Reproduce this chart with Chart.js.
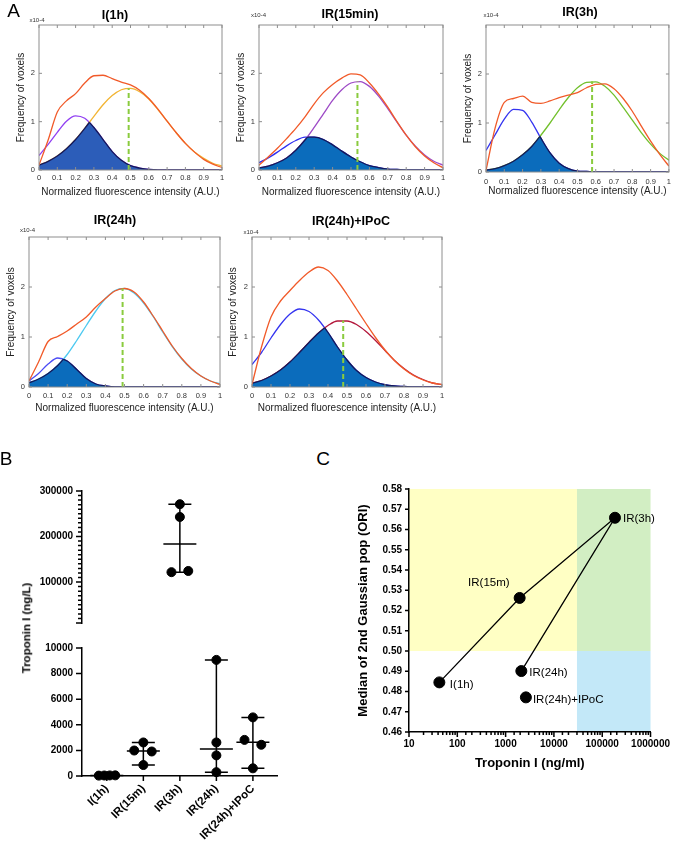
<!DOCTYPE html>
<html lang="en">
<head>
<meta charset="UTF-8">
<title>Gaussian populations and Troponin I</title>
<script src="https://cdn.jsdelivr.net/npm/chart.js"></script>
<style>
  body { margin: 0; background: #fff; }
  #fig { position: relative; width: 676px; height: 844px; overflow: hidden; font-family: 'Liberation Sans', Arial, sans-serif; }
  #fig canvas { position: absolute; }
  .t { position: absolute; transform: translate(-50%, -50%); white-space: nowrap; line-height: 1; color: #000; }
  .letter { font-size: 19px; }
  .ttl { font-size: 12.5px; font-weight: bold; }
  .exp { font-size: 6px; color: #333; }
  .ytitle { font-size: 11.5px; font-weight: bold; transform: translate(-50%, -50%) rotate(-90deg); }
</style>
</head>
<body>
<div id="fig">
  <canvas id="a1" width="230" height="200" style="left:0;top:0"></canvas>
  <canvas id="a2" width="230" height="200" style="left:220px;top:0"></canvas>
  <canvas id="a3" width="236" height="200" style="left:440px;top:0"></canvas>
  <canvas id="a4" width="230" height="215" style="left:0;top:200px"></canvas>
  <canvas id="a5" width="230" height="215" style="left:220px;top:200px"></canvas>
  <canvas id="b1" width="300" height="162" style="left:0;top:476px"></canvas>
  <canvas id="b2" width="300" height="211" style="left:0;top:633px"></canvas>
  <canvas id="c1" width="346" height="305" style="left:330px;top:470px"></canvas>

  <div class="t letter" style="left:13.5px;top:10px">A</div>
  <div class="t letter" style="left:6px;top:458px">B</div>
  <div class="t letter" style="left:323px;top:458px">C</div>

  <div class="t ttl" style="left:115px;top:15px">I(1h)</div>
  <div class="t ttl" style="left:350px;top:13.5px">IR(15min)</div>
  <div class="t ttl" style="left:580px;top:11.5px">IR(3h)</div>
  <div class="t ttl" style="left:115px;top:220px">IR(24h)</div>
  <div class="t ttl" style="left:351px;top:221px">IR(24h)+IPoC</div>

  <div class="t exp" style="left:37px;top:20px">x10-4</div>
  <div class="t exp" style="left:258.5px;top:15px">x10-4</div>
  <div class="t exp" style="left:491px;top:15px">x10-4</div>
  <div class="t exp" style="left:27.5px;top:230px">x10-4</div>
  <div class="t exp" style="left:251px;top:232px">x10-4</div>

  <div class="t ytitle" style="left:27px;top:628px">Troponin I (ng/L)</div>
</div>

<script>
  // ---- panel A: voxel intensity distributions (frequency in units of 1e-4) ----
  const xs = [0, 0.05, 0.1, 0.15, 0.2, 0.25, 0.3, 0.35, 0.4, 0.45, 0.5,
              0.55, 0.6, 0.65, 0.7, 0.75, 0.8, 0.85, 0.9, 0.95, 1];

  const i1hTotal = [0.1, 0.62, 1.2, 1.43, 1.58, 1.8, 1.95, 1.96, 1.89, 1.82, 1.76, 1.65, 1.48, 1.26, 1.01, 0.77, 0.55, 0.37, 0.22, 0.12, 0.05];
  const i1hG1    = [0.3, 0.53, 0.78, 1.01, 1.12, 1.07, 0.88, 0.63, 0.38, 0.2, 0.09, 0.04, 0.01, 0, 0, 0, 0, 0, 0, 0, 0];
  const i1hG2    = [0.1, 0.18, 0.29, 0.44, 0.63, 0.86, 1.11, 1.35, 1.54, 1.66, 1.69, 1.62, 1.47, 1.25, 1.01, 0.77, 0.55, 0.37, 0.24, 0.14, 0.08];

  const ir15Total = [0.1, 0.27, 0.45, 0.65, 0.86, 1.1, 1.37, 1.6, 1.77, 1.9, 1.99, 1.97, 1.8, 1.57, 1.3, 1.0, 0.72, 0.48, 0.29, 0.15, 0.05];
  const ir15G1    = [0.15, 0.25, 0.37, 0.5, 0.61, 0.68, 0.68, 0.63, 0.52, 0.39, 0.27, 0.17, 0.09, 0.05, 0.02, 0.01, 0, 0, 0, 0, 0];
  const ir15G2    = [0.04, 0.08, 0.15, 0.25, 0.41, 0.62, 0.88, 1.16, 1.44, 1.66, 1.8, 1.83, 1.73, 1.53, 1.27, 0.99, 0.72, 0.49, 0.31, 0.18, 0.1];

  const ir3Total = [0.03, 0.9, 1.42, 1.5, 1.55, 1.42, 1.4, 1.45, 1.52, 1.57, 1.62, 1.72, 1.79, 1.8, 1.7, 1.5, 1.24, 0.93, 0.63, 0.36, 0.12];
  const ir3G1    = [0.44, 0.76, 1.08, 1.28, 1.26, 1.02, 0.69, 0.39, 0.18, 0.07, 0.02, 0.01, 0, 0, 0, 0, 0, 0, 0, 0, 0];
  const ir3G2    = [0.04, 0.07, 0.13, 0.22, 0.35, 0.52, 0.75, 1.0, 1.27, 1.52, 1.72, 1.83, 1.84, 1.75, 1.57, 1.32, 1.06, 0.8, 0.57, 0.38, 0.24];

  const ir24Total = [0.12, 0.5, 0.91, 1.01, 1.12, 1.26, 1.4, 1.6, 1.77, 1.92, 1.97, 1.9, 1.7, 1.42, 1.12, 0.82, 0.57, 0.37, 0.22, 0.12, 0.05];
  const ir24G1    = [0.12, 0.27, 0.46, 0.58, 0.52, 0.35, 0.17, 0.06, 0.02, 0, 0, 0, 0, 0, 0, 0, 0, 0, 0, 0, 0];
  const ir24G2    = [0.085, 0.16, 0.27, 0.43, 0.65, 0.93, 1.23, 1.52, 1.77, 1.93, 1.97, 1.88, 1.68, 1.41, 1.1, 0.81, 0.56, 0.36, 0.22, 0.12, 0.065];

  const ipocTotal = [0.05, 0.8, 1.4, 1.72, 1.93, 2.13, 2.3, 2.4, 2.33, 2.12, 1.85, 1.56, 1.27, 0.99, 0.74, 0.53, 0.36, 0.23, 0.14, 0.08, 0.05];
  const ipocG1    = [0.45, 0.69, 0.98, 1.25, 1.46, 1.56, 1.51, 1.34, 1.09, 0.8, 0.54, 0.33, 0.19, 0.1, 0.045, 0.02, 0.01, 0, 0, 0, 0];
  const ipocG2    = [0.075, 0.13, 0.22, 0.34, 0.5, 0.69, 0.89, 1.08, 1.23, 1.32, 1.32, 1.25, 1.11, 0.93, 0.73, 0.53, 0.37, 0.24, 0.15, 0.08, 0.045];

  // median of the 2nd gaussian (dashed line) and its height
  const g2Mean = [0.49, 0.535, 0.58, 0.49, 0.48];
  const g2Peak = [1.69, 1.83, 1.85, 1.97, 1.33];

  // ---- panel B: troponin I per animal (ng/L) ----
  const groups = ['I(1h)', 'IR(15m)', 'IR(3h)', 'IR(24h)', 'IR(24h)+IPoC'];
  const tropI1h  = [30, 40, 45, 50];
  const tropIR15 = [2620, 1990, 1915, 856];
  const tropIR3  = [271000, 243000, 121700, 124300];
  const tropIR24 = [9070, 2620, 1610, 300];
  const tropIPoC = [4580, 2820, 2440, 600];
  const troponin = [tropI1h, tropIR15, tropIR3, tropIR24, tropIPoC];
  // sideways spread of overlapping dots, in category widths
  const dotShift = [[-0.22, -0.07, 0.08, 0.23], [0, -0.25, 0.23, 0], [0, 0, -0.23, 0.23], [0, 0, 0, 0], [0, -0.23, 0.23, 0]];
  const axisBreak = 10000;

  // ---- panel C: median of 2nd gaussian vs troponin ----
  const oriMedian = [0.4845, 0.5262, 0.5658, 0.4901, 0.4771];
  const pathOrder = [0, 1, 2, 3];
  const zoneTrop = 30000, zoneOri = 0.5;

  Chart.defaults.font.family = "'Liberation Sans', Arial, sans-serif";
  Chart.defaults.color = '#000';
  Chart.defaults.animation = false;
  Chart.defaults.responsive = false;
  Chart.defaults.plugins.legend.display = false;
  Chart.defaults.plugins.tooltip.enabled = false;

  function pts(arr) { return arr.map((y, i) => ({x: xs[i], y})); }
  function median(vals) {
    const s = [...vals].sort((a, b) => a - b), m = s.length >> 1;
    return s.length % 2 ? s[m] : (s[m - 1] + s[m]) / 2;
  }

  // matlab style box with inward ticks
  const boxFrame = {
    id: 'boxFrame',
    afterDatasetsDraw(chart) {
      const {ctx, chartArea: a, scales: {x, y}} = chart;
      ctx.save();
      ctx.strokeStyle = '#8e8e8e';
      ctx.lineWidth = 1;
      ctx.strokeRect(a.left, a.top, a.right - a.left, a.bottom - a.top);
      ctx.beginPath();
      x.ticks.forEach(t => {
        const p = x.getPixelForValue(t.value);
        ctx.moveTo(p, a.bottom); ctx.lineTo(p, a.bottom - 3);
        ctx.moveTo(p, a.top); ctx.lineTo(p, a.top + 3);
      });
      y.ticks.forEach(t => {
        const p = y.getPixelForValue(t.value);
        ctx.moveTo(a.left, p); ctx.lineTo(a.left + 3, p);
        ctx.moveTo(a.right, p); ctx.lineTo(a.right - 3, p);
      });
      ctx.stroke();
      ctx.restore();
    }
  };

  // shaded area under both gaussians (dataset 2 = 2nd gaussian, 3 = 1st)
  function overlapFill(color) {
    return {
      id: 'overlapFill',
      afterDatasetDraw(chart, args) {
        if (args.index !== 2) return;
        const ctx = chart.ctx;
        const base = chart.scales.y.getPixelForValue(0);
        const line1 = chart.getDatasetMeta(3).dataset, line2 = chart.getDatasetMeta(2).dataset;
        const area = line => {
          const p = line.points;
          ctx.beginPath();
          line.path(ctx);
          ctx.lineTo(p[p.length - 1].x, base);
          ctx.lineTo(p[0].x, base);
          ctx.closePath();
        };
        ctx.save();
        area(line1); ctx.clip();
        area(line2);
        ctx.fillStyle = color;
        ctx.fill();
        ctx.strokeStyle = '#15195a';
        ctx.lineWidth = 1.3;
        ctx.beginPath(); line2.path(ctx); ctx.stroke();
        ctx.restore();
        ctx.save();
        area(line2); ctx.clip();
        ctx.strokeStyle = '#15195a';
        ctx.lineWidth = 1.3;
        ctx.beginPath(); line1.path(ctx); ctx.stroke();
        ctx.restore();
      }
    };
  }

  const curvePanels = [
    {id: 'a1', total: i1hTotal, g1: i1hG1, g2: i1hG2, c1: '#9140f2', c2: '#f2b433', fill: '#2c5db9',
     pad: {left: 14, top: 25, right: 8, bottom: 0}, yW: 25, xH: 30, tickPad: 3, titlePad: 2},
    {id: 'a2', total: ir15Total, g1: ir15G1, g2: ir15G2, c1: '#2f2ff2', c2: '#9d4ac6', fill: '#0b6cbc',
     pad: {left: 14, top: 25, right: 7, bottom: 0}, yW: 25, xH: 30, tickPad: 3, titlePad: 2},
    {id: 'a3', total: ir3Total, g1: ir3G1, g2: ir3G2, c1: '#3434f0', c2: '#72c02c', fill: '#0b6cbc',
     pad: {left: 21, top: 25, right: 3, bottom: 0}, yW: 25, xH: 28, tickPad: 5, titlePad: 3},
    {id: 'a4', total: ir24Total, g1: ir24G1, g2: ir24G2, c1: '#4b4bf5', c2: '#4cc9f0', fill: '#0b6cbc',
     pad: {left: 4, top: 37, right: 10, bottom: 0}, yW: 25, xH: 28, tickPad: 4, titlePad: 1},
    {id: 'a5', total: ipocTotal, g1: ipocG1, g2: ipocG2, c1: '#3434f0', c2: '#b3173b', fill: '#0b6cbc',
     pad: {left: 6, top: 37, right: 8, bottom: 0}, yW: 26, xH: 28, tickPad: 4, titlePad: 1}
  ];

  curvePanels.forEach((p, k) => {
    new Chart(document.getElementById(p.id), {
      type: 'line',
      data: {
        datasets: [
          {data: [{x: g2Mean[k], y: 0}, {x: g2Mean[k], y: g2Peak[k]}], borderColor: '#8acb3e', borderWidth: 2, borderDash: [5, 3]},
          {data: pts(p.total), borderColor: '#f15a29', borderWidth: 1.3, cubicInterpolationMode: 'monotone'},
          {data: pts(p.g2), borderColor: p.c2, borderWidth: 1.3, cubicInterpolationMode: 'monotone'},
          {data: pts(p.g1), borderColor: p.c1, borderWidth: 1.3, cubicInterpolationMode: 'monotone'}
        ]
      },
      options: {
        layout: {padding: p.pad},
        elements: {point: {radius: 0}},
        scales: {
          x: {
            type: 'linear', min: 0, max: 1,
            afterFit: s => { s.height = p.xH; },
            grid: {display: false, drawTicks: false},
            border: {display: false},
            ticks: {stepSize: 0.1, autoSkip: false, maxRotation: 0, padding: p.tickPad, color: '#333', font: {size: 7.5},
                    callback: v => String(Math.round(v * 10) / 10)},
            title: {display: true, text: 'Normalized fluorescence intensity (A.U.)', color: '#222', font: {size: 10},
                    padding: {top: 0, bottom: p.titlePad}}
          },
          y: {
            min: 0, max: 3,
            afterFit: s => { s.width = p.yW; },
            afterBuildTicks: s => { s.ticks = [0, 1, 2].map(v => ({value: v})); },
            grid: {display: false, drawTicks: false},
            border: {display: false},
            ticks: {padding: 4, color: '#333', font: {size: 7.5}},
            title: {display: true, text: 'Frequency of voxels', color: '#222', font: {size: 10}, padding: {top: 1, bottom: 0}}
          }
        }
      },
      plugins: [boxFrame, overlapFill(p.fill)]
    });
  });

  // ---- panel B ----
  function tickMarks(spec) {
    return {
      id: 'tickMarks',
      afterDraw(chart) {
        const ctx = chart.ctx;
        ctx.save();
        ctx.strokeStyle = '#000';
        ctx.lineWidth = 1.5;
        ctx.beginPath();
        for (const id in spec) {
          const s = chart.scales[id], o = spec[id];
          s.ticks.forEach(t => {
            const p = s.getPixelForValue(t.value);
            const len = o.isMajor(t.value) ? o.major : o.minor;
            if (s.isHorizontal()) { ctx.moveTo(p, s.top); ctx.lineTo(p, s.top + len); }
            else { ctx.moveTo(s.right, p); ctx.lineTo(s.right - len, p); }
          });
        }
        ctx.stroke();
        ctx.restore();
      }
    };
  }

  const rangeBars = {
    id: 'rangeBars',
    beforeDatasetsDraw(chart) {
      const {ctx, scales: {x, y}} = chart;
      ctx.save();
      ctx.strokeStyle = '#000';
      ctx.lineWidth = 1.5;
      ctx.beginPath();
      troponin.forEach((vals, g) => {
        const lo = Math.min(...vals), hi = Math.max(...vals);
        if (lo < y.min || hi > y.max) return;
        const px = x.getPixelForValue(g);
        const yl = y.getPixelForValue(lo), yh = y.getPixelForValue(hi), ym = y.getPixelForValue(median(vals));
        ctx.moveTo(px, yh); ctx.lineTo(px, yl);
        ctx.moveTo(px - 11.5, yh); ctx.lineTo(px + 11.5, yh);
        ctx.moveTo(px - 11.5, yl); ctx.lineTo(px + 11.5, yl);
        ctx.moveTo(px - 16.5, ym); ctx.lineTo(px + 16.5, ym);
      });
      ctx.stroke();
      ctx.restore();
    }
  };

  function dotsWithin(lo, hi) {
    const out = [];
    troponin.forEach((vals, g) => vals.forEach((v, j) => {
      if (v >= lo && v <= hi) out.push({x: g + dotShift[g][j], y: v});
    }));
    return out;
  }

  const dotStyle = {backgroundColor: '#000', borderColor: '#000', pointRadius: 4.5, clip: false};
  const boldTicks = {size: 10, weight: 'bold'};

  // upper part of the broken axis
  new Chart(document.getElementById('b1'), {
    type: 'scatter',
    data: {datasets: [{data: dotsWithin(axisBreak, 300000), ...dotStyle}]},
    options: {
      layout: {padding: {left: 0, top: 10, right: 23, bottom: 6}},
      scales: {
        x: {type: 'linear', min: -0.68, max: 4.66, display: false},
        y: {
          min: axisBreak, max: 300000,
          afterFit: s => { s.width = 82; },
          grid: {display: false, drawTicks: false},
          border: {color: '#000', width: 1.5},
          ticks: {stepSize: 10000, autoSkip: false, padding: 9, font: boldTicks,
                  callback: v => (v % 100000 === 0 ? String(v) : '')}
        }
      }
    },
    plugins: [rangeBars, tickMarks({y: {major: 6, minor: 4, isMajor: v => v % 100000 === 0 || v === axisBreak}})]
  });

  // lower part
  new Chart(document.getElementById('b2'), {
    type: 'scatter',
    data: {datasets: [{data: dotsWithin(0, axisBreak - 1), ...dotStyle}]},
    options: {
      layout: {padding: {left: 0, top: 10, right: 23, bottom: 0}},
      scales: {
        x: {
          type: 'linear', min: -0.68, max: 4.66,
          afterFit: s => { s.height = 68; },
          afterBuildTicks: s => { s.ticks = groups.map((_, i) => ({value: i})); },
          grid: {display: false, drawTicks: false},
          border: {color: '#000', width: 1.5},
          ticks: {autoSkip: false, minRotation: 45, maxRotation: 45, padding: 6, font: {size: 11.5, weight: 'bold'},
                  callback: v => groups[v]}
        },
        y: {
          min: 0, max: axisBreak,
          afterFit: s => { s.width = 82; },
          grid: {display: false, drawTicks: false},
          border: {color: '#000', width: 1.5},
          ticks: {stepSize: 2000, padding: 9, font: boldTicks, callback: v => String(v)}
        }
      }
    },
    plugins: [rangeBars, tickMarks({x: {major: 5, minor: 5, isMajor: () => true}, y: {major: 6, minor: 6, isMajor: () => true}})]
  });

  // ---- panel C ----
  const tropMedian = troponin.map(median);
  // label offsets from each dot, in px: [dx, dy, align]
  const labelPlace = [[10.5, 2, 'left'], [-10, -15, 'right'], [8, 1.5, 'left'], [8, 1.5, 'left'], [7, 2.5, 'left']];

  const zones = {
    id: 'zones',
    beforeDraw(chart) {
      const {ctx, chartArea: a, scales: {x, y}} = chart;
      const xc = x.getPixelForValue(zoneTrop), yc = y.getPixelForValue(zoneOri);
      ctx.save();
      ctx.fillStyle = '#ffffc4'; ctx.fillRect(a.left, a.top, xc - a.left, yc - a.top);
      ctx.fillStyle = '#d2eec3'; ctx.fillRect(xc, a.top, a.right - xc, yc - a.top);
      ctx.fillStyle = '#c3e8f8'; ctx.fillRect(xc, yc, a.right - xc, a.bottom - yc);
      ctx.restore();
    }
  };

  const pointLabels = {
    id: 'pointLabels',
    afterDatasetsDraw(chart) {
      const {ctx, scales: {x, y}} = chart;
      ctx.save();
      ctx.font = "11.5px 'Liberation Sans', Arial, sans-serif";
      ctx.fillStyle = '#000';
      ctx.textBaseline = 'middle';
      groups.forEach((name, i) => {
        const [dx, dy, align] = labelPlace[i];
        ctx.textAlign = align;
        ctx.fillText(name, x.getPixelForValue(tropMedian[i]) + dx, y.getPixelForValue(oriMedian[i]) + dy);
      });
      ctx.restore();
    }
  };

  const isDecade = v => {
    const e = Math.round(Math.log10(v));
    return Math.abs(v - Math.pow(10, e)) < 1e-6 * v;
  };

  new Chart(document.getElementById('c1'), {
    type: 'scatter',
    data: {
      datasets: [
        {data: groups.map((_, i) => ({x: tropMedian[i], y: oriMedian[i]})), pointRadius: 5.5,
         backgroundColor: '#000', borderColor: '#000', clip: false},
        {data: pathOrder.map(i => ({x: tropMedian[i], y: oriMedian[i]})), showLine: true, pointRadius: 0,
         borderColor: '#000', borderWidth: 1.3}
      ]
    },
    options: {
      layout: {padding: {left: 24, top: 19, right: 25, bottom: 0}},
      scales: {
        x: {
          type: 'logarithmic', min: 10, max: 1000000,
          afterFit: s => { s.height = 43; },
          grid: {display: false, drawTicks: false},
          border: {color: '#000', width: 1.5},
          ticks: {autoSkip: false, maxRotation: 0, padding: 6, font: boldTicks,
                  callback: v => (isDecade(v) ? String(Math.round(v)) : '')},
          title: {display: true, text: 'Troponin I (ng/ml)', font: {size: 13, weight: 'bold'}, padding: {top: 0, bottom: 4}}
        },
        y: {
          min: 0.46, max: 0.58,
          afterFit: s => { s.width = 55; },
          grid: {display: false, drawTicks: false},
          border: {color: '#000', width: 1.5},
          ticks: {stepSize: 0.01, padding: 7, font: boldTicks, callback: v => v.toFixed(2)},
          title: {display: true, text: 'Median of 2nd Gaussian pop (ORI)', font: {size: 13, weight: 'bold'}, padding: {top: 1.5, bottom: 0}}
        }
      }
    },
    plugins: [zones, pointLabels, tickMarks({x: {major: 5, minor: 3, isMajor: isDecade}, y: {major: 4, minor: 4, isMajor: () => true}})]
  });
</script>
</body>
</html>
